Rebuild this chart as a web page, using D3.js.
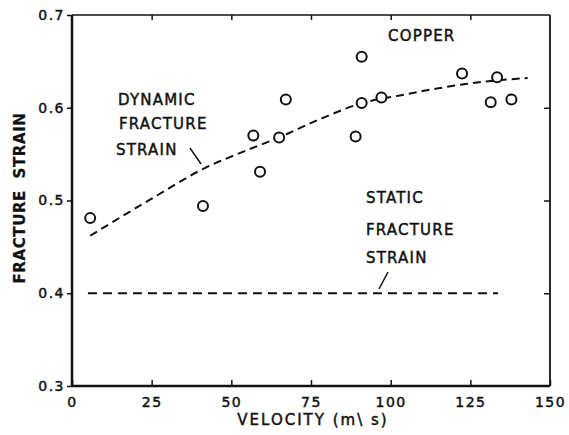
<!DOCTYPE html>
<html>
<head>
<meta charset="utf-8">
<script src="https://d3js.org/d3.v7.min.js"></script>
<style>
  body { margin: 0; background: #fff; }
  svg text { font-family: "DejaVu Sans", sans-serif; fill: #111; stroke: #111; stroke-width: 0.45px; }
  .tick text { font-size: 14px; letter-spacing: 1.5px; }
  .lbl { font-size: 15px; letter-spacing: 1.2px; }
</style>
</head>
<body>
<script>
// measured points (velocity m/s, fracture strain)
var velocity = [5.7, 41.1, 56.9, 59.0, 65.0, 67.1, 89.0, 90.9, 90.9, 97.1, 122.4, 131.4, 133.4, 137.9];
var strain   = [0.481, 0.494, 0.570, 0.531, 0.568, 0.609, 0.569, 0.655, 0.605, 0.611, 0.637, 0.606, 0.633, 0.609];

// dynamic fracture strain fit curve
var dynV = [5.7, 25, 41.7, 54, 65, 78, 91, 104, 115, 129, 143];
var dynS = [0.462, 0.502, 0.535, 0.553, 0.568, 0.588, 0.605, 0.614, 0.621, 0.628, 0.632];

// static fracture strain
var staticV = [5, 133.7];
var staticS = 0.4;

var xTicks = [0, 25, 50, 75, 100, 125, 150];
var yTicks = [0.3, 0.4, 0.5, 0.6, 0.7];

var margin = {top: 15, right: 19, bottom: 49, left: 72},
    width = 569 - margin.left - margin.right,
    height = 435 - margin.top - margin.bottom;

var svg = d3.select("body").append("svg")
    .attr("width", 569)
    .attr("height", 435)
  .append("g")
    .attr("transform", "translate(" + margin.left + "," + margin.top + ")");

var x = d3.scaleLinear().domain([0, 150]).range([0, width]);
var y = d3.scaleLinear().domain([0.3, 0.7]).range([height, 0]);

// axes
svg.append("g")
    .attr("transform", "translate(0," + height + ")")
    .call(d3.axisBottom(x).tickValues(xTicks).tickSize(-6).tickPadding(11))
    .call(g => g.select(".domain").remove());

svg.append("g")
    .call(d3.axisTop(x).tickValues(xTicks.slice(1, -1)).tickSize(-5).tickFormat(""))
    .call(g => g.select(".domain").remove());

svg.append("g")
    .call(d3.axisLeft(y).tickValues(yTicks).tickSize(5).tickPadding(2).tickFormat(d3.format(".1f")))
    .call(g => g.select(".domain").remove());

svg.append("g")
    .attr("transform", "translate(" + width + ",0)")
    .call(d3.axisRight(y).tickValues(yTicks.slice(1, -1)).tickSize(-6).tickFormat(""))
    .call(g => g.select(".domain").remove());

svg.selectAll(".tick line").attr("stroke", "#111").attr("stroke-width", 1.5);

// frame
svg.append("line").attr("x1", 0).attr("x2", width).attr("y1", 0).attr("y2", 0)
    .attr("stroke", "#111").attr("stroke-width", 1.5);
svg.append("line").attr("x1", width).attr("x2", width).attr("y1", 0).attr("y2", height)
    .attr("stroke", "#111").attr("stroke-width", 1.8);
svg.append("line").attr("x1", 0).attr("x2", 0).attr("y1", 0).attr("y2", height)
    .attr("stroke", "#111").attr("stroke-width", 2.5);
svg.append("line").attr("x1", 0).attr("x2", width).attr("y1", height).attr("y2", height)
    .attr("stroke", "#111").attr("stroke-width", 2.5);

// static line
svg.append("line")
    .attr("x1", x(staticV[0])).attr("x2", x(staticV[1]))
    .attr("y1", y(staticS)).attr("y2", y(staticS))
    .attr("stroke", "#111").attr("stroke-width", 2)
    .attr("stroke-dasharray", "9,6");

// dynamic curve
var line = d3.line()
    .x((d, i) => x(dynV[i]))
    .y(d => y(d))
    .curve(d3.curveMonotoneX);

svg.append("path")
    .attr("d", line(dynS))
    .attr("fill", "none")
    .attr("stroke", "#111").attr("stroke-width", 2)
    .attr("stroke-dasharray", "8,5");

// points
svg.selectAll(".pt")
    .data(velocity)
  .enter().append("circle")
    .attr("class", "pt")
    .attr("cx", d => x(d))
    .attr("cy", (d, i) => y(strain[i]))
    .attr("r", 5)
    .attr("fill", "#fff")
    .attr("stroke", "#111")
    .attr("stroke-width", 2);

// annotations
function label(txt, px, py) {
  svg.append("text").attr("class", "lbl")
      .attr("x", px - margin.left).attr("y", py - margin.top)
      .text(txt);
}
label("COPPER", 388, 41);
label("DYNAMIC", 118, 105);
label("FRACTURE", 119, 129);
label("STRAIN", 116, 155);
label("STATIC", 366, 203);
label("FRACTURE", 366, 235);
label("STRAIN", 366, 263);

svg.append("line")
    .attr("x1", 190 - margin.left).attr("y1", 148 - margin.top)
    .attr("x2", 201 - margin.left).attr("y2", 164 - margin.top)
    .attr("stroke", "#111").attr("stroke-width", 1.5);
svg.append("line")
    .attr("x1", 388 - margin.left).attr("y1", 272 - margin.top)
    .attr("x2", 379 - margin.left).attr("y2", 289 - margin.top)
    .attr("stroke", "#111").attr("stroke-width", 1.5);

// axis titles
svg.append("text")
    .attr("x", 313 - margin.left).attr("y", 425 - margin.top)
    .attr("text-anchor", "middle")
    .style("font-size", "15px").style("letter-spacing", "2px")
    .text("VELOCITY (m\\ s)");

svg.append("text")
    .attr("transform", "translate(" + (25 - margin.left) + "," + (198 - margin.top) + ") rotate(-90)")
    .attr("text-anchor", "middle")
    .style("font-size", "15px").style("font-weight", "bold").style("letter-spacing", "0.6px")
    .style("stroke-width", "0.2px")
    .text("FRACTURE\u00a0\u00a0STRAIN");
</script>
</body>
</html>
